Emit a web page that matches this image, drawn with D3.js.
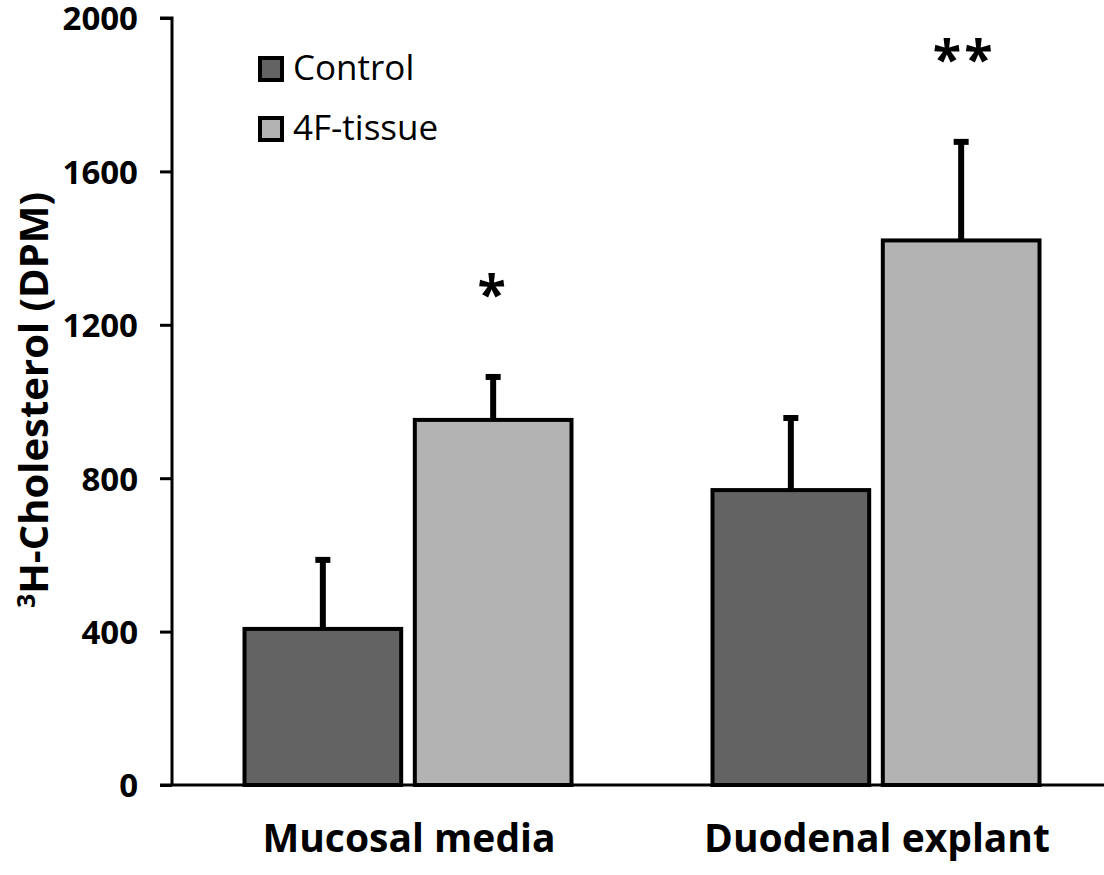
<!DOCTYPE html>
<html>
<head>
<meta charset="utf-8">
<script src="https://cdn.jsdelivr.net/npm/d3@7"></script>
<style>
  html, body { margin: 0; padding: 0; background: #fff; }
  svg { display: block; }
</style>
</head>
<body>
<svg id="chart" width="1104" height="875"></svg>
<script>
// Groups, series and measured values (DPM)
const categories = ["Mucosal media", "Duodenal explant"];
const series = ["Control", "4F-tissue"];
const controlValues = [407, 769];
const tissueValues = [952, 1420];
const controlErrors = [180, 188];
const tissueErrors = [112, 257];
const significance = ["*", "**"];
const yTicks = [0, 400, 800, 1200, 1600, 2000];
const seriesColors = ["#636363", "#b3b3b3"];

const valuesBySeries = [controlValues, tissueValues];
const errorsBySeries = [controlErrors, tissueErrors];

const svg = d3.select("#chart");
const font = "'Open Sans', 'Noto Sans', sans-serif";

const y = d3.scaleLinear().domain([0, 2000]).range([785, 18]);
const x0 = d3.scaleBand().domain(categories).range([174, 1110]);
const x1 = d3.scaleBand().domain(series).range([-163.5, 163.5]).paddingInner(0.08);

// One record per bar
const rows = [];
categories.forEach((c, i) => {
  series.forEach((s, j) => {
    rows.push({ c, s, j, v: valuesBySeries[j][i], e: errorsBySeries[j][i] });
  });
});

const left = d => x0(d.c) + x0.bandwidth() / 2 + x1(d.s);
const mid = d => left(d) + x1.bandwidth() / 2;

// Upper error bars, drawn beneath the bar outlines
const err = svg.append("g");
err.selectAll("line.stem").data(rows).join("line")
  .attr("class", "stem")
  .attr("x1", mid).attr("x2", mid)
  .attr("y1", d => y(d.v))
  .attr("y2", d => y(d.v + d.e))
  .attr("stroke", "#000").attr("stroke-width", 6);
err.selectAll("line.cap").data(rows).join("line")
  .attr("class", "cap")
  .attr("x1", d => mid(d) - 7.5)
  .attr("x2", d => mid(d) + 7.5)
  .attr("y1", d => y(d.v + d.e))
  .attr("y2", d => y(d.v + d.e))
  .attr("stroke", "#000").attr("stroke-width", 6);

svg.append("g").selectAll("rect").data(rows).join("rect")
  .attr("x", left)
  .attr("y", d => y(d.v))
  .attr("width", x1.bandwidth())
  .attr("height", d => y(0) - y(d.v))
  .attr("fill", d => seriesColors[d.j])
  .attr("stroke", "#000")
  .attr("stroke-width", 4);

// Significance marks above the 4F-tissue bars
svg.append("g").selectAll("text").data(categories).join("text")
  .attr("x", (c, i) => x0(c) + x0.bandwidth() / 2 + x1(series[1]) + x1.bandwidth() / 2 + (i ? 3 : 0))
  .attr("y", (c, i) => y(tissueValues[i] + tissueErrors[i]) - 64)
  .attr("text-anchor", "middle")
  .attr("font-family", font)
  .attr("font-weight", "bold")
  .attr("font-size", 52)
  .attr("letter-spacing", 3)
  .text((c, i) => significance[i]);

// Y axis
const yAxis = svg.append("g")
  .attr("transform", "translate(172,0)")
  .call(d3.axisLeft(y).tickValues(yTicks).tickSize(12).tickPadding(22).tickFormat(d3.format("d")));
yAxis.select(".domain").attr("stroke", "#000").attr("stroke-width", 3)
  .attr("d", `M-12,${y(2000)}H0V${y(0)}`);
yAxis.selectAll(".tick line").attr("stroke", "#000").attr("stroke-width", 3);
yAxis.selectAll(".tick text")
  .attr("font-family", font).attr("font-weight", "bold")
  .attr("font-size", 33).attr("fill", "#000")
  .attr("dy", "0.36em");

// X baseline
svg.append("line")
  .attr("x1", 160).attr("x2", 1104)
  .attr("y1", y(0)).attr("y2", y(0))
  .attr("stroke", "#000").attr("stroke-width", 3);

// Category labels
svg.append("g").selectAll("text").data(categories).join("text")
  .attr("x", c => x0(c) + x0.bandwidth() / 2 + 1)
  .attr("y", 852)
  .attr("text-anchor", "middle")
  .attr("font-family", font).attr("font-weight", "bold")
  .attr("font-size", 39)
  .text(c => c);

// Y title
const yt = svg.append("text")
  .attr("transform", "translate(48,400) rotate(-90)")
  .attr("text-anchor", "middle")
  .attr("font-family", font).attr("font-weight", "bold")
  .attr("font-size", 40);
yt.append("tspan").attr("font-size", 25).attr("dy", -13).text("3");
yt.append("tspan").attr("dy", 13).text("H-Cholesterol (DPM)");

// Legend
const legend = svg.append("g").selectAll("g").data(series).join("g")
  .attr("transform", (s, i) => `translate(260,${58 + i * 60})`);
legend.append("rect")
  .attr("width", 22).attr("height", 22)
  .attr("fill", (s, i) => seriesColors[i])
  .attr("stroke", "#000").attr("stroke-width", 4);
legend.append("text")
  .attr("x", 33).attr("y", 22)
  .attr("font-family", font)
  .attr("font-size", 35)
  .text(s => s);
</script>
</body>
</html>
